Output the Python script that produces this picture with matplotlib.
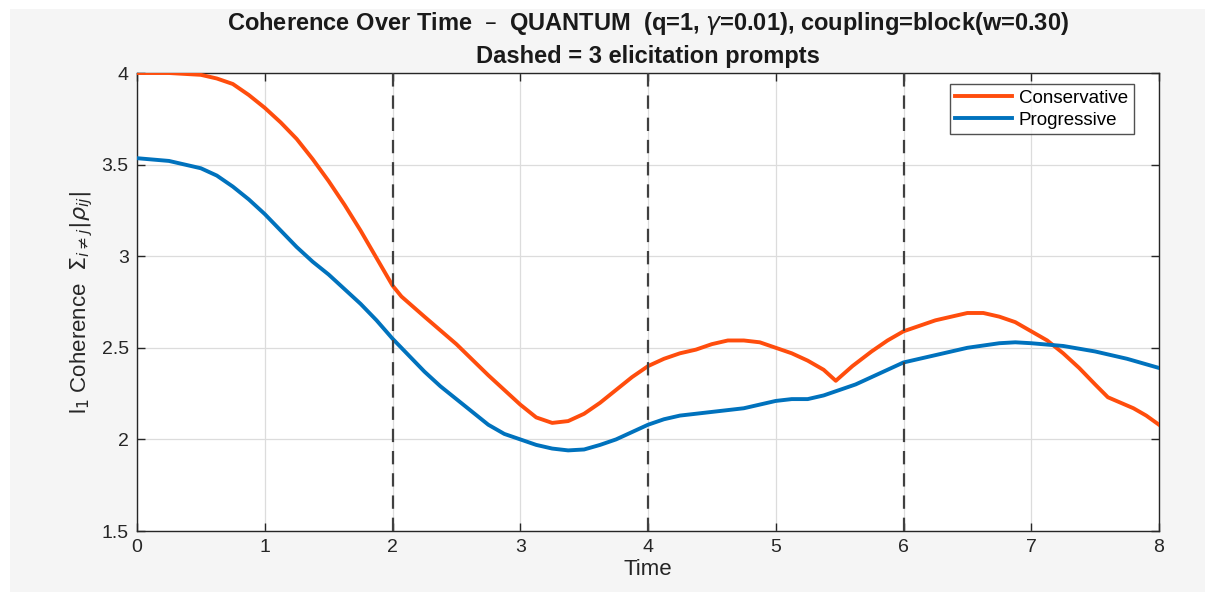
import matplotlib
matplotlib.use("Agg")
import matplotlib.pyplot as plt
from matplotlib.patches import Rectangle

t_cons = [0, 0.25, 0.5, 0.625, 0.75, 0.875, 1.0, 1.125, 1.25, 1.375, 1.5, 1.625, 1.75, 1.875,
          2.0, 2.07, 2.25, 2.5, 2.75, 2.875, 3.0, 3.125, 3.25, 3.375, 3.5, 3.625, 3.75, 3.875,
          4.0, 4.125, 4.25, 4.375, 4.5, 4.625, 4.75, 4.875, 5.0, 5.125, 5.25, 5.375, 5.47,
          5.6, 5.75, 5.875, 6.0, 6.125, 6.25, 6.375, 6.5, 6.625, 6.75, 6.875, 7.0, 7.125,
          7.25, 7.375, 7.5, 7.6, 7.7, 7.8, 7.9, 8.0]
v_cons = [4.00, 4.00, 3.99, 3.97, 3.94, 3.88, 3.81, 3.73, 3.64, 3.53, 3.41, 3.28, 3.14, 2.99,
          2.84, 2.78, 2.67, 2.52, 2.35, 2.27, 2.19, 2.12, 2.09, 2.10, 2.14, 2.20, 2.27, 2.34,
          2.40, 2.44, 2.47, 2.49, 2.52, 2.54, 2.54, 2.53, 2.50, 2.47, 2.43, 2.38, 2.32,
          2.40, 2.48, 2.54, 2.59, 2.62, 2.65, 2.67, 2.69, 2.69, 2.67, 2.64, 2.59, 2.54,
          2.47, 2.39, 2.30, 2.23, 2.20, 2.17, 2.13, 2.08]

t_prog = [0, 0.25, 0.5, 0.625, 0.75, 0.875, 1.0, 1.125, 1.25, 1.375, 1.5, 1.625, 1.75, 1.875,
          2.0, 2.125, 2.25, 2.375, 2.5, 2.625, 2.75, 2.875, 3.0, 3.125, 3.25, 3.375, 3.5,
          3.625, 3.75, 3.875, 4.0, 4.125, 4.25, 4.5, 4.75, 4.875, 5.0, 5.125, 5.25, 5.375,
          5.5, 5.625, 5.75, 5.875, 6.0, 6.25, 6.5, 6.75, 6.875, 7.0, 7.25, 7.5, 7.75, 8.0]
v_prog = [3.535, 3.52, 3.48, 3.44, 3.38, 3.31, 3.23, 3.14, 3.05, 2.97, 2.90, 2.82, 2.74, 2.65,
          2.55, 2.46, 2.37, 2.29, 2.22, 2.15, 2.08, 2.03, 2.00, 1.97, 1.95, 1.94, 1.945,
          1.97, 2.00, 2.04, 2.08, 2.11, 2.13, 2.15, 2.17, 2.19, 2.21, 2.22, 2.22, 2.24,
          2.27, 2.30, 2.34, 2.38, 2.42, 2.46, 2.50, 2.525, 2.53, 2.525, 2.51, 2.48, 2.44, 2.39]

prompt_times = [2, 4, 6]
series_names = ["Conservative", "Progressive"]
x_ticks = [0, 1, 2, 3, 4, 5, 6, 7, 8]
y_ticks = [1.5, 2, 2.5, 3, 3.5, 4]

plt.rcParams['font.family'] = ['Liberation Sans', 'DejaVu Sans']
plt.rcParams['mathtext.fontset'] = 'dejavusans'

W, H = 1214, 601
fig = plt.figure(figsize=(W / 100, H / 100), dpi=100, facecolor='white')
fig.patches.append(Rectangle((10 / W, 9 / H), (1205 - 10) / W, (592 - 9) / H,
                             transform=fig.transFigure, facecolor='#f5f5f5',
                             edgecolor='none', zorder=-10))
ax = fig.add_axes([137 / W, 1 - 531 / H, (1159 - 137) / W, (531 - 73) / H])
ax.set_facecolor('white')

ax.plot(t_cons, v_cons, color='#ff4d0d', lw=2.8, label=series_names[0], zorder=3,
        solid_joinstyle='round')
ax.plot(t_prog, v_prog, color='#0072bd', lw=2.8, label=series_names[1], zorder=3,
        solid_joinstyle='round')
for pt in prompt_times:
    ax.axvline(pt, color='#404040', ls=(0, (6, 4)), lw=1.6, zorder=4)

ax.set_xlim(0, 8)
ax.set_ylim(1.5, 4)
ax.set_xticks(x_ticks)
ax.set_yticks(y_ticks)
ax.set_xticklabels([str(v) for v in x_ticks])
ax.set_yticklabels([f"{v:g}" for v in y_ticks])
ax.grid(True, color='#dcdcdc', lw=0.9)
ax.set_axisbelow(True)
ax.tick_params(direction='in', top=True, right=True, length=6, width=1.0,
               labelsize=14, colors='#262626', pad=6)
for s in ax.spines.values():
    s.set_color('#262626')
    s.set_linewidth(1.0)

ax.set_xlabel('Time', fontsize=16, color='#262626', labelpad=2)
ax.set_ylabel(r'l$_1$ Coherence  $\Sigma_{i\neq j}|\rho_{ij}|$', fontsize=16,
              color='#262626', labelpad=5)
ax.set_title('Coherence Over Time  –  QUANTUM  (q=1, $\\gamma$=0.01), coupling=block(w=0.30)\n'
             'Dashed = 3 elicitation prompts', fontsize=17, fontweight='bold',
             color='#1a1a1a', pad=7, linespacing=1.45)

leg = ax.legend(loc='upper right', fontsize=13.5, frameon=True, fancybox=False,
                edgecolor='#262626', handlelength=3.0, borderpad=0.3,
                labelspacing=0.25, handletextpad=0.4, borderaxespad=0.6)
leg.get_frame().set_linewidth(1.0)
leg.set_bbox_to_anchor((1 - 14 / 1022, 1), transform=ax.transAxes)

fig.savefig('out.png', dpi=100, facecolor='white')
